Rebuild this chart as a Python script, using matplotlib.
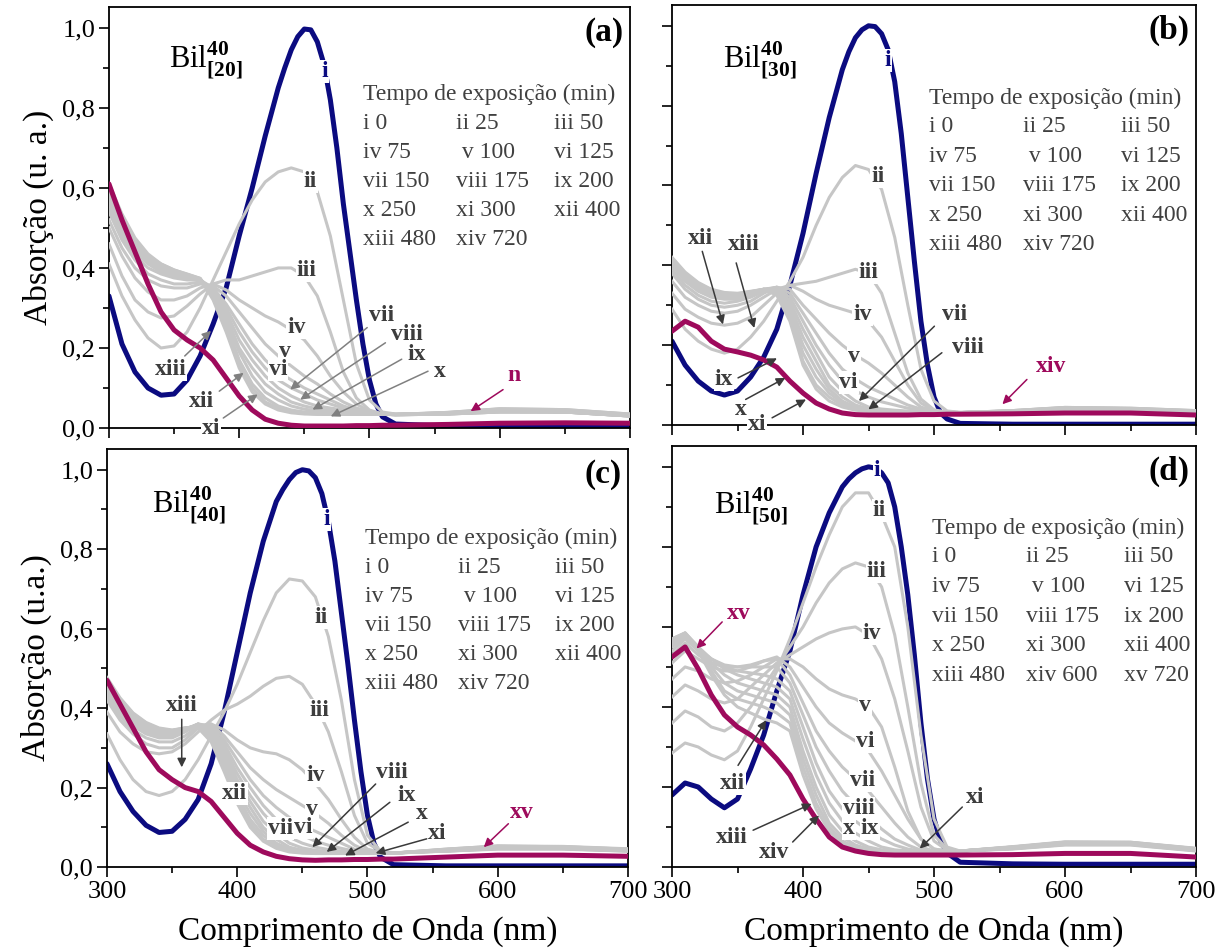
import matplotlib
matplotlib.use('Agg')
import matplotlib.pyplot as plt
from matplotlib.ticker import MultipleLocator, FuncFormatter

plt.rcParams['font.family'] = ['Liberation Serif', 'DejaVu Serif']
plt.rcParams['mathtext.fontset'] = 'custom'
plt.rcParams['mathtext.rm'] = 'Liberation Serif'
plt.rcParams['mathtext.bf'] = 'Liberation Serif:bold'

# wavelength grids (nm)
wl = list(range(300, 521, 10)) + [560, 600, 650, 700]
wl_blue = list(range(300, 430, 10)) + list(range(430, 511, 5)) + [520, 560, 600, 650, 700]

# ---------------- panel (a) Bil 40 [20] ----------------
a_blue = [0.33, 0.21, 0.14, 0.10, 0.082, 0.085, 0.12, 0.18, 0.26, 0.35, 0.48, 0.60, 0.73,
          0.85, 0.90, 0.945, 0.978, 0.997, 0.995, 0.965, 0.91, 0.82, 0.70, 0.56, 0.44, 0.32, 0.21, 0.12, 0.06, 0.028,
          0.01, 0.005, 0.004, 0.003, 0.003]
a_mag = [0.61, 0.52, 0.44, 0.36, 0.29, 0.245, 0.22, 0.20, 0.17, 0.125, 0.08, 0.045, 0.022, 0.012, 0.007, 0.005,
         0.005, 0.005, 0.005, 0.006, 0.006, 0.007, 0.007, 0.009, 0.012, 0.013, 0.012]
a_grey = [
    [0.41, 0.33, 0.27, 0.225, 0.20, 0.205, 0.24, 0.30, 0.37, 0.44, 0.51, 0.57, 0.615, 0.64, 0.65, 0.64, 0.59, 0.48, 0.32, 0.16, 0.07, 0.04, 0.035, 0.035, 0.04, 0.04, 0.03],
    [0.46, 0.38, 0.32, 0.29, 0.275, 0.28, 0.305, 0.335, 0.36, 0.37, 0.37, 0.38, 0.39, 0.40, 0.40, 0.38, 0.33, 0.24, 0.14, 0.075, 0.045, 0.035, 0.033, 0.035, 0.04, 0.04, 0.03],
    [0.50, 0.43, 0.375, 0.34, 0.32, 0.32, 0.33, 0.35, 0.36, 0.345, 0.32, 0.30, 0.28, 0.265, 0.245, 0.22, 0.18, 0.13, 0.09, 0.06, 0.042, 0.035, 0.033, 0.035, 0.04, 0.04, 0.03],
    [0.52, 0.45, 0.40, 0.37, 0.355, 0.35, 0.35, 0.36, 0.355, 0.33, 0.29, 0.25, 0.21, 0.18, 0.155, 0.13, 0.11, 0.085, 0.065, 0.05, 0.04, 0.035, 0.033, 0.035, 0.042, 0.04, 0.03],
    [0.54, 0.47, 0.42, 0.385, 0.37, 0.36, 0.36, 0.365, 0.35, 0.31, 0.26, 0.21, 0.17, 0.14, 0.12, 0.10, 0.085, 0.07, 0.055, 0.045, 0.04, 0.035, 0.033, 0.036, 0.042, 0.04, 0.03],
    [0.55, 0.48, 0.43, 0.40, 0.385, 0.375, 0.37, 0.37, 0.35, 0.30, 0.24, 0.19, 0.15, 0.12, 0.10, 0.085, 0.07, 0.06, 0.05, 0.042, 0.038, 0.035, 0.034, 0.036, 0.043, 0.041, 0.031],
    [0.56, 0.49, 0.44, 0.41, 0.39, 0.38, 0.375, 0.37, 0.345, 0.29, 0.22, 0.17, 0.13, 0.10, 0.08, 0.065, 0.055, 0.05, 0.045, 0.04, 0.037, 0.035, 0.034, 0.037, 0.044, 0.042, 0.032],
    [0.57, 0.50, 0.45, 0.415, 0.395, 0.385, 0.378, 0.372, 0.34, 0.28, 0.20, 0.15, 0.11, 0.085, 0.065, 0.055, 0.048, 0.044, 0.04, 0.038, 0.036, 0.035, 0.034, 0.037, 0.045, 0.043, 0.032],
    [0.58, 0.51, 0.46, 0.42, 0.40, 0.39, 0.38, 0.373, 0.335, 0.27, 0.19, 0.13, 0.09, 0.07, 0.055, 0.047, 0.043, 0.04, 0.038, 0.036, 0.035, 0.034, 0.034, 0.038, 0.046, 0.044, 0.033],
    [0.59, 0.52, 0.465, 0.425, 0.405, 0.392, 0.382, 0.373, 0.33, 0.26, 0.17, 0.11, 0.075, 0.055, 0.045, 0.04, 0.038, 0.036, 0.035, 0.034, 0.034, 0.034, 0.034, 0.038, 0.047, 0.045, 0.034],
    [0.60, 0.53, 0.47, 0.43, 0.41, 0.395, 0.384, 0.374, 0.325, 0.25, 0.16, 0.10, 0.065, 0.05, 0.04, 0.037, 0.035, 0.034, 0.034, 0.034, 0.034, 0.034, 0.034, 0.039, 0.048, 0.046, 0.035],
    [0.61, 0.535, 0.475, 0.435, 0.41, 0.395, 0.385, 0.374, 0.32, 0.24, 0.15, 0.09, 0.06, 0.045, 0.038, 0.035, 0.034, 0.034, 0.034, 0.034, 0.034, 0.034, 0.034, 0.039, 0.048, 0.046, 0.035],
]

# ---------------- panel (b) Bil 40 [30] ----------------
b_blue = [0.21, 0.15, 0.11, 0.085, 0.075, 0.085, 0.12, 0.17, 0.24, 0.35, 0.48, 0.63, 0.77,
          0.89, 0.935, 0.97, 0.99, 1.0, 0.998, 0.98, 0.94, 0.86, 0.73, 0.57, 0.41, 0.26, 0.15, 0.07, 0.03, 0.015,
          0.004, 0.002, 0.002, 0.002, 0.002]
b_mag = [0.235, 0.26, 0.245, 0.21, 0.19, 0.183, 0.175, 0.163, 0.145, 0.11, 0.08, 0.055, 0.04, 0.03, 0.026, 0.025,
         0.025, 0.025, 0.025, 0.026, 0.026, 0.027, 0.027, 0.028, 0.03, 0.03, 0.025]
b_grey = [
    [0.29, 0.24, 0.21, 0.19, 0.18, 0.19, 0.22, 0.26, 0.31, 0.36, 0.42, 0.50, 0.57, 0.62, 0.65, 0.64, 0.59, 0.47, 0.30, 0.14, 0.06, 0.035, 0.032, 0.034, 0.04, 0.038, 0.032],
    [0.33, 0.29, 0.27, 0.255, 0.25, 0.255, 0.27, 0.30, 0.33, 0.35, 0.355, 0.36, 0.37, 0.38, 0.39, 0.38, 0.33, 0.23, 0.13, 0.065, 0.038, 0.032, 0.031, 0.033, 0.04, 0.038, 0.032],
    [0.36, 0.32, 0.30, 0.285, 0.28, 0.285, 0.30, 0.32, 0.34, 0.35, 0.335, 0.315, 0.30, 0.29, 0.28, 0.26, 0.22, 0.16, 0.10, 0.055, 0.036, 0.032, 0.031, 0.033, 0.04, 0.038, 0.032],
    [0.38, 0.34, 0.315, 0.30, 0.295, 0.30, 0.31, 0.33, 0.345, 0.34, 0.30, 0.265, 0.23, 0.20, 0.175, 0.155, 0.13, 0.10, 0.07, 0.045, 0.035, 0.032, 0.031, 0.034, 0.04, 0.038, 0.032],
    [0.39, 0.35, 0.325, 0.31, 0.305, 0.31, 0.32, 0.335, 0.345, 0.33, 0.28, 0.23, 0.18, 0.14, 0.115, 0.095, 0.08, 0.065, 0.05, 0.04, 0.035, 0.032, 0.031, 0.034, 0.041, 0.039, 0.033],
    [0.40, 0.36, 0.335, 0.32, 0.315, 0.315, 0.325, 0.338, 0.345, 0.32, 0.26, 0.20, 0.15, 0.11, 0.085, 0.07, 0.058, 0.05, 0.042, 0.037, 0.034, 0.032, 0.031, 0.034, 0.041, 0.039, 0.033],
    [0.405, 0.365, 0.34, 0.325, 0.32, 0.32, 0.328, 0.34, 0.345, 0.31, 0.24, 0.18, 0.12, 0.085, 0.06, 0.045, 0.04, 0.037, 0.035, 0.033, 0.032, 0.031, 0.031, 0.035, 0.042, 0.04, 0.034],
    [0.41, 0.37, 0.345, 0.33, 0.322, 0.322, 0.33, 0.34, 0.343, 0.30, 0.22, 0.16, 0.10, 0.07, 0.05, 0.04, 0.036, 0.034, 0.033, 0.032, 0.031, 0.031, 0.031, 0.035, 0.042, 0.04, 0.034],
    [0.413, 0.375, 0.35, 0.333, 0.325, 0.325, 0.332, 0.34, 0.34, 0.29, 0.20, 0.14, 0.09, 0.06, 0.045, 0.038, 0.035, 0.033, 0.032, 0.031, 0.031, 0.031, 0.031, 0.035, 0.043, 0.041, 0.035],
    [0.416, 0.378, 0.352, 0.336, 0.328, 0.327, 0.333, 0.34, 0.335, 0.28, 0.18, 0.12, 0.08, 0.055, 0.042, 0.036, 0.034, 0.032, 0.031, 0.031, 0.031, 0.031, 0.031, 0.036, 0.043, 0.041, 0.035],
    [0.418, 0.38, 0.355, 0.338, 0.33, 0.328, 0.334, 0.34, 0.33, 0.27, 0.16, 0.10, 0.07, 0.05, 0.04, 0.035, 0.033, 0.032, 0.031, 0.031, 0.031, 0.031, 0.031, 0.036, 0.044, 0.042, 0.036],
    [0.42, 0.383, 0.357, 0.34, 0.332, 0.33, 0.335, 0.34, 0.325, 0.26, 0.15, 0.09, 0.06, 0.045, 0.037, 0.034, 0.032, 0.031, 0.031, 0.031, 0.031, 0.031, 0.031, 0.036, 0.044, 0.042, 0.036],
]

# ---------------- panel (c) Bil 40 [40] ----------------
c_blue = [0.26, 0.19, 0.14, 0.105, 0.087, 0.09, 0.12, 0.17, 0.26, 0.39, 0.54, 0.69, 0.82,
          0.92, 0.95, 0.975, 0.993, 1.0, 0.997, 0.98, 0.94, 0.87, 0.77, 0.64, 0.51, 0.37, 0.24, 0.13, 0.06, 0.025,
          0.006, 0.003, 0.003, 0.003, 0.003]
c_mag = [0.47, 0.41, 0.35, 0.29, 0.245, 0.22, 0.20, 0.19, 0.165, 0.125, 0.085, 0.055, 0.038, 0.027, 0.021, 0.018,
         0.017, 0.018, 0.018, 0.019, 0.019, 0.02, 0.02, 0.025, 0.03, 0.03, 0.027]
c_grey = [
    [0.335, 0.27, 0.22, 0.19, 0.18, 0.19, 0.22, 0.27, 0.33, 0.39, 0.46, 0.54, 0.62, 0.69, 0.725, 0.72, 0.68, 0.58, 0.42, 0.22, 0.08, 0.04, 0.035, 0.04, 0.045, 0.045, 0.04],
    [0.39, 0.34, 0.31, 0.29, 0.285, 0.29, 0.31, 0.34, 0.37, 0.395, 0.41, 0.43, 0.455, 0.475, 0.48, 0.46, 0.41, 0.34, 0.24, 0.13, 0.06, 0.04, 0.036, 0.04, 0.046, 0.046, 0.04],
    [0.42, 0.37, 0.335, 0.31, 0.30, 0.30, 0.32, 0.35, 0.36, 0.345, 0.32, 0.30, 0.29, 0.285, 0.27, 0.245, 0.21, 0.17, 0.12, 0.075, 0.045, 0.037, 0.036, 0.04, 0.047, 0.047, 0.041],
    [0.43, 0.38, 0.345, 0.325, 0.315, 0.315, 0.33, 0.355, 0.36, 0.33, 0.29, 0.25, 0.22, 0.195, 0.175, 0.155, 0.135, 0.11, 0.08, 0.055, 0.04, 0.036, 0.035, 0.041, 0.048, 0.047, 0.041],
    [0.44, 0.39, 0.355, 0.335, 0.325, 0.325, 0.34, 0.36, 0.355, 0.32, 0.27, 0.22, 0.18, 0.15, 0.125, 0.105, 0.09, 0.075, 0.06, 0.045, 0.038, 0.035, 0.035, 0.041, 0.048, 0.048, 0.042],
    [0.445, 0.395, 0.36, 0.34, 0.33, 0.33, 0.343, 0.36, 0.35, 0.31, 0.25, 0.20, 0.155, 0.12, 0.095, 0.08, 0.065, 0.055, 0.047, 0.04, 0.036, 0.035, 0.035, 0.042, 0.049, 0.048, 0.042],
    [0.45, 0.40, 0.365, 0.345, 0.335, 0.335, 0.345, 0.36, 0.345, 0.30, 0.235, 0.18, 0.135, 0.10, 0.075, 0.06, 0.05, 0.044, 0.04, 0.037, 0.035, 0.035, 0.035, 0.042, 0.05, 0.049, 0.043],
    [0.455, 0.405, 0.37, 0.35, 0.34, 0.338, 0.347, 0.36, 0.34, 0.29, 0.22, 0.165, 0.115, 0.085, 0.06, 0.048, 0.042, 0.039, 0.037, 0.035, 0.035, 0.035, 0.035, 0.043, 0.05, 0.049, 0.043],
    [0.46, 0.41, 0.375, 0.355, 0.343, 0.34, 0.348, 0.358, 0.335, 0.28, 0.205, 0.15, 0.10, 0.07, 0.05, 0.042, 0.038, 0.036, 0.035, 0.035, 0.035, 0.035, 0.035, 0.043, 0.051, 0.05, 0.044],
    [0.465, 0.415, 0.38, 0.358, 0.345, 0.342, 0.349, 0.356, 0.33, 0.27, 0.19, 0.135, 0.09, 0.06, 0.045, 0.038, 0.036, 0.035, 0.035, 0.035, 0.035, 0.035, 0.035, 0.044, 0.052, 0.05, 0.044],
    [0.47, 0.42, 0.383, 0.36, 0.347, 0.343, 0.35, 0.354, 0.325, 0.26, 0.18, 0.12, 0.08, 0.055, 0.042, 0.037, 0.035, 0.035, 0.035, 0.035, 0.035, 0.035, 0.035, 0.044, 0.052, 0.051, 0.045],
    [0.473, 0.423, 0.386, 0.362, 0.348, 0.344, 0.35, 0.352, 0.32, 0.25, 0.17, 0.11, 0.07, 0.05, 0.04, 0.036, 0.035, 0.035, 0.035, 0.035, 0.035, 0.035, 0.035, 0.045, 0.053, 0.051, 0.045],
    [0.477, 0.426, 0.388, 0.364, 0.35, 0.345, 0.35, 0.35, 0.315, 0.24, 0.16, 0.10, 0.065, 0.047, 0.038, 0.035, 0.034, 0.034, 0.034, 0.034, 0.034, 0.034, 0.035, 0.045, 0.053, 0.052, 0.046],
]

# ---------------- panel (d) Bil 40 [50] ----------------
d_blue = [0.18, 0.21, 0.20, 0.17, 0.148, 0.17, 0.245, 0.33, 0.44, 0.54, 0.68, 0.80, 0.885,
          0.95, 0.97, 0.985, 0.995, 1.0, 0.997, 0.985, 0.96, 0.90, 0.80, 0.68, 0.53, 0.36, 0.22, 0.12, 0.065, 0.035,
          0.012, 0.008, 0.007, 0.007, 0.007]
d_mag = [0.525, 0.55, 0.495, 0.43, 0.38, 0.35, 0.33, 0.305, 0.27, 0.23, 0.17, 0.12, 0.075, 0.05, 0.04, 0.034,
         0.031, 0.03, 0.03, 0.03, 0.03, 0.03, 0.03, 0.031, 0.034, 0.034, 0.025]
d_grey = [
    [0.285, 0.31, 0.30, 0.28, 0.268, 0.29, 0.35, 0.42, 0.49, 0.57, 0.66, 0.75, 0.83, 0.90, 0.935, 0.935, 0.88, 0.80, 0.60, 0.33, 0.12, 0.05, 0.04, 0.045, 0.055, 0.055, 0.04],
    [0.36, 0.39, 0.375, 0.35, 0.34, 0.36, 0.40, 0.45, 0.50, 0.55, 0.60, 0.66, 0.71, 0.745, 0.76, 0.75, 0.70, 0.58, 0.40, 0.21, 0.08, 0.045, 0.04, 0.046, 0.056, 0.056, 0.041],
    [0.425, 0.455, 0.44, 0.42, 0.41, 0.42, 0.45, 0.48, 0.51, 0.53, 0.55, 0.57, 0.585, 0.595, 0.60, 0.58, 0.52, 0.42, 0.29, 0.15, 0.065, 0.042, 0.04, 0.046, 0.057, 0.057, 0.042],
    [0.47, 0.50, 0.49, 0.47, 0.46, 0.465, 0.48, 0.50, 0.52, 0.52, 0.50, 0.47, 0.445, 0.43, 0.42, 0.40, 0.35, 0.25, 0.14, 0.07, 0.045, 0.04, 0.04, 0.047, 0.058, 0.058, 0.042],
    [0.51, 0.54, 0.52, 0.50, 0.49, 0.49, 0.50, 0.515, 0.525, 0.50, 0.45, 0.40, 0.36, 0.335, 0.315, 0.29, 0.24, 0.18, 0.12, 0.07, 0.045, 0.04, 0.04, 0.047, 0.058, 0.058, 0.043],
    [0.53, 0.56, 0.53, 0.51, 0.50, 0.50, 0.505, 0.515, 0.52, 0.48, 0.41, 0.34, 0.29, 0.25, 0.22, 0.19, 0.15, 0.11, 0.075, 0.05, 0.04, 0.04, 0.04, 0.048, 0.059, 0.059, 0.043],
    [0.54, 0.57, 0.54, 0.52, 0.505, 0.50, 0.50, 0.50, 0.50, 0.46, 0.38, 0.30, 0.24, 0.19, 0.155, 0.125, 0.095, 0.07, 0.055, 0.042, 0.04, 0.04, 0.04, 0.048, 0.06, 0.06, 0.044],
    [0.55, 0.575, 0.545, 0.52, 0.50, 0.49, 0.485, 0.48, 0.47, 0.44, 0.35, 0.26, 0.19, 0.145, 0.115, 0.09, 0.07, 0.055, 0.045, 0.04, 0.04, 0.04, 0.04, 0.049, 0.06, 0.06, 0.044],
    [0.555, 0.58, 0.55, 0.52, 0.495, 0.48, 0.47, 0.46, 0.45, 0.42, 0.32, 0.23, 0.16, 0.115, 0.085, 0.065, 0.05, 0.043, 0.04, 0.04, 0.04, 0.04, 0.04, 0.049, 0.061, 0.06, 0.045],
    [0.56, 0.58, 0.55, 0.51, 0.48, 0.46, 0.45, 0.44, 0.43, 0.40, 0.29, 0.20, 0.13, 0.09, 0.065, 0.05, 0.043, 0.04, 0.04, 0.04, 0.04, 0.04, 0.04, 0.05, 0.061, 0.061, 0.045],
    [0.565, 0.585, 0.55, 0.50, 0.46, 0.44, 0.43, 0.42, 0.41, 0.38, 0.27, 0.18, 0.11, 0.075, 0.055, 0.045, 0.04, 0.04, 0.04, 0.04, 0.04, 0.04, 0.04, 0.05, 0.062, 0.061, 0.046],
    [0.57, 0.585, 0.55, 0.49, 0.44, 0.42, 0.41, 0.40, 0.385, 0.36, 0.25, 0.16, 0.10, 0.065, 0.05, 0.042, 0.04, 0.04, 0.04, 0.04, 0.04, 0.04, 0.04, 0.05, 0.062, 0.062, 0.046],
    [0.57, 0.585, 0.54, 0.48, 0.43, 0.40, 0.385, 0.37, 0.36, 0.34, 0.23, 0.145, 0.09, 0.06, 0.045, 0.04, 0.04, 0.04, 0.04, 0.04, 0.04, 0.04, 0.04, 0.051, 0.063, 0.062, 0.047],
]

legend_abc = [['i 0', 'ii 25', 'iii 50'], ['iv 75', ' v 100', 'vi 125'], ['vii 150', 'viii 175', 'ix 200'],
              ['x 250', 'xi 300', 'xii 400'], ['xiii 480', 'xiv 720', '']]
legend_d = [['i 0', 'ii 25', 'iii 50'], ['iv 75', ' v 100', 'vi 125'], ['vii 150', 'viii 175', 'ix 200'],
            ['x 250', 'xi 300', 'xii 400'], ['xiii 480', 'xiv 600', 'xv 720']]

NAVY = '#0b0b80'
MAG = '#9e0a5c'
GREY = '#c6c6c6'
LBL = '#3d3d3d'
ARR_A = '#808080'
ARR = '#3a3a3a'

a_labels = [('i', 465.6, 0.891, NAVY), ('ii', 454.7, 0.615, LBL), ('iii', 451.6, 0.393, LBL),
            ('iv', 443.8, 0.251, LBL), ('v', 435.4, 0.192, LBL), ('vi', 429.8, 0.146, LBL),
            ('vii', 509, 0.28, LBL), ('viii', 528.8, 0.234, LBL), ('ix', 536.6, 0.184, LBL),
            ('x', 554.3, 0.142, LBL), ('xi', 378.4, 0.0, LBL), ('xii', 371.3, 0.067, LBL),
            ('xiii', 347.3, 0.146, LBL), ('n', 611.3, 0.13, MAG)]
a_arrows = [(358.2, 0.18, 378.4, 0.243, ARR_A), (384.7, 0.092, 403.4, 0.138, ARR_A),
            (387.8, 0.025, 414.2, 0.084, ARR_A), (498.3, 0.251, 439.2, 0.096, ARR_A),
            (512.3, 0.213, 446.9, 0.071, ARR_A), (524.8, 0.172, 456.3, 0.046, ARR_A),
            (545, 0.142, 470.3, 0.029, ARR_A), (602.6, 0.096, 577.7, 0.042, MAG)]

b_labels = [('i', 464.8, 0.914, NAVY), ('ii', 457, 0.6225, LBL), ('iii', 449.9, 0.381, LBL),
            ('iv', 445.5, 0.277, LBL), ('v', 439.2, 0.1725, LBL), ('vi', 434.9, 0.106, LBL),
            ('vii', 515.6, 0.277, LBL), ('viii', 526.2, 0.193, LBL), ('ix', 339.8, 0.114, LBL),
            ('x', 352.4, 0.039, LBL), ('xi', 364.8, 0.0, LBL), ('xii', 321.6, 0.468, LBL),
            ('xiii', 354.8, 0.452, LBL), ('xiv', 589.6, 0.1475, MAG)]
b_arrows = [(323.1, 0.435, 338.9, 0.252, ARR), (349, 0.406, 362.8, 0.243, ARR),
            (350.4, 0.118, 380.1, 0.167, ARR), (356.2, 0.064, 386.5, 0.118, ARR),
            (376.4, 0.018, 402.3, 0.064, ARR), (500.3, 0.2475, 442.7, 0.06, ARR),
            (506, 0.181, 449.9, 0.039, ARR), (570.9, 0.114, 552.2, 0.052, MAG)]

c_labels = [('i', 468.7, 0.874, NAVY), ('ii', 464.6, 0.628, LBL), ('iii', 463.3, 0.393, LBL),
            ('iv', 460.2, 0.23, LBL), ('v', 457.7, 0.146, LBL), ('vi', 450.5, 0.1, LBL),
            ('vii', 433.5, 0.096, LBL), ('viii', 518.8, 0.238, LBL), ('ix', 529.8, 0.18, LBL),
            ('x', 541.4, 0.134, LBL), ('xi', 553.3, 0.084, LBL), ('xii', 398.1, 0.184, LBL),
            ('xiii', 357.4, 0.406, LBL), ('xv', 618.5, 0.138, MAG)]
c_arrows = [(357.4, 0.372, 357.4, 0.251, ARR), (506.3, 0.209, 457.7, 0.05, ARR),
            (517.2, 0.163, 468.7, 0.038, ARR), (531.3, 0.113, 482.8, 0.029, ARR),
            (545.5, 0.071, 506.3, 0.035, ARR), (608.2, 0.109, 589.3, 0.05, MAG)]

d_labels = [('i', 456.3, 0.99, NAVY), ('ii', 458.3, 0.89, LBL), ('iii', 456.3, 0.7375, LBL),
            ('iv', 452.5, 0.583, LBL), ('v', 447.6, 0.404, LBL), ('vi', 447.6, 0.3125, LBL),
            ('vii', 445.3, 0.217, LBL), ('viii', 442.4, 0.146, LBL), ('x', 435.3, 0.096, LBL),
            ('ix', 451.1, 0.096, LBL), ('xi', 531.7, 0.175, LBL), ('xii', 346, 0.208, LBL),
            ('xiii', 346, 0.075, LBL), ('xiv', 377.7, 0.0375, LBL), ('xv', 350.9, 0.633, MAG)]
d_arrows = [(338.3, 0.6125, 318.7, 0.546, MAG), (350.4, 0.254, 371.9, 0.367, ARR),
            (361.9, 0.092, 406.5, 0.158, ARR), (392.1, 0.0625, 412.2, 0.129, ARR),
            (521.6, 0.15, 489.1, 0.046, ARR)]

panels = [
    # rect, letter, sub, blue, mag, grey, labels, arrows, legend, bil xy, legend xy, ylabel, xlabel
    ([0.0885, 0.5485, 0.4232, 0.4441], '(a)', '20', a_blue, a_mag, a_grey, a_labels, a_arrows, legend_abc,
     (345.8, 0.92), (495.2, 566.8, 641.5, 0.833, 0.7615, 0.0728), 'Absorção (u. a.)', False),
    ([0.5459, 0.5517, 0.4257, 0.4430], '(b)', '30', b_blue, b_mag, b_grey, b_labels, b_arrows, legend_abc,
     (338.9, 0.914), (496, 568, 643, 0.818, 0.7475, 0.0739), None, False),
    ([0.0869, 0.0854, 0.4232, 0.4409], '(c)', '40', c_blue, c_mag, c_grey, c_labels, c_arrows, legend_abc,
     (334.5, 0.912), (497.8, 569.9, 644.2, 0.828, 0.755, 0.0732), 'Absorção (u.a.)', True),
    ([0.5459, 0.0854, 0.4257, 0.4441], '(d)', '50', d_blue, d_mag, d_grey, d_labels, d_arrows, legend_d,
     (331.7, 0.904), (498.6, 570.5, 645.3, 0.846, 0.775, 0.074), None, True),
]

fig = plt.figure(figsize=(12.31, 9.48), dpi=100)

for rect, letter, sub, blue, mag, grey, labels, arrows, legend, bil, lg, ylab, xlab in panels:
    ax = fig.add_axes(rect)
    ax.plot(wl_blue, blue, color=NAVY, lw=3.6, zorder=2, solid_capstyle='round', solid_joinstyle='round')
    for g in grey:
        ax.plot(wl, g, color=GREY, lw=2.2, zorder=3, solid_joinstyle='round')
    ax.plot(wl, mag, color=MAG, lw=3.6, zorder=4, solid_capstyle='round', solid_joinstyle='round')

    ax.set_xlim(300, 700)
    ax.set_ylim(0, 1.052)
    ax.xaxis.set_major_locator(MultipleLocator(100))
    ax.xaxis.set_minor_locator(MultipleLocator(50))
    ax.yaxis.set_major_locator(MultipleLocator(0.2))
    ax.yaxis.set_minor_locator(MultipleLocator(0.1))
    ax.yaxis.set_major_formatter(FuncFormatter(lambda v, p: f'{v:.1f}'.replace('.', ',')))
    ax.tick_params(which='major', direction='out', length=7, width=1.2, labelsize=19, pad=3)
    ax.tick_params(which='minor', direction='out', length=4, width=1.2)
    for s in ax.spines.values():
        s.set_linewidth(1.3)
    if ylab is None:
        ax.tick_params(axis='y', labelleft=False)
    else:
        ax.set_ylabel(ylab, fontsize=24, labelpad=6)
    if xlab:
        ax.set_xlabel('Comprimento de Onda (nm)', fontsize=24, labelpad=9)
    else:
        ax.tick_params(axis='x', labelbottom=False)

    # sample name and panel letter
    ax.text(bil[0], bil[1], r'$\mathrm{Bil}^{\mathbf{40}}_{\mathbf{[' + sub + ']}}$',
            fontsize=22, ha='left', va='center', zorder=6)
    ax.text(695, 0.988, letter, fontsize=24, fontweight='bold', ha='right', va='center', zorder=6)

    # exposure time table
    ax.text(lg[0], lg[3], 'Tempo de exposição (min)', fontsize=17, color='#404040',
            ha='left', va='center', zorder=6)
    for r, row in enumerate(legend):
        for c, txt in enumerate(row):
            ax.text(lg[c], lg[4] - r * lg[5], txt, fontsize=17, color='#404040',
                    ha='left', va='center', zorder=6)

    # curve labels and arrows
    for txt, x, y, col in labels:
        ax.text(x, y, txt, fontsize=17, fontweight='bold', color=col, ha='center', va='center',
                zorder=7, bbox=dict(facecolor='white', edgecolor='none', pad=0.6))
    for x0, y0, x1, y1, col in arrows:
        ax.annotate('', xy=(x1, y1), xytext=(x0, y0), zorder=8,
                    arrowprops=dict(arrowstyle='-|>', color=col, lw=1.1, mutation_scale=13,
                                    shrinkA=0, shrinkB=0))

fig.savefig('out.png', dpi=100)
